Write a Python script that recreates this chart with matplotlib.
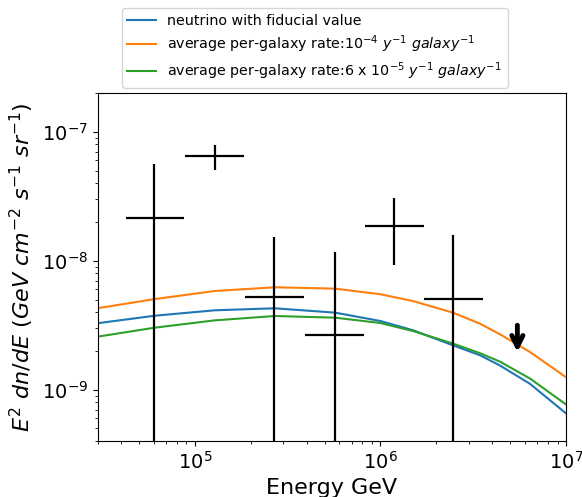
import matplotlib

matplotlib.use("Agg")
import matplotlib.pyplot as plt

# model curves, E^2 dN/dE in GeV cm^-2 s^-1 sr^-1
energy_model = [3.0e4, 6.1e4, 1.28e5, 2.7e5, 5.7e5, 1.0e6, 1.5e6, 2.46e6, 3.44e6, 4.41e6, 6.4e6, 1.0e7]
flux_fiducial = [3.28e-9, 3.75e-9, 4.13e-9, 4.28e-9, 3.96e-9, 3.41e-9, 2.89e-9, 2.21e-9, 1.85e-9,
                 1.54e-9, 1.11e-9, 6.55e-10]
flux_rate_1e4 = [4.29e-9, 5.05e-9, 5.83e-9, 6.23e-9, 6.08e-9, 5.50e-9, 4.87e-9, 3.96e-9, 3.25e-9,
                 2.69e-9, 1.96e-9, 1.25e-9]
flux_rate_6e5 = [2.58e-9, 3.03e-9, 3.45e-9, 3.73e-9, 3.62e-9, 3.29e-9, 2.85e-9, 2.28e-9, 1.92e-9,
                 1.65e-9, 1.22e-9, 7.69e-10]

# measured points: bin centre / edges, flux and its lower / upper bound
e_center = [6.0e4, 1.28e5, 2.68e5, 5.66e5, 1.18e6, 2.46e6]
e_lo = [4.27e4, 8.8e4, 1.87e5, 3.9e5, 8.3e5, 1.72e6]
e_hi = [8.7e4, 1.85e5, 3.87e5, 8.2e5, 1.71e6, 3.58e6]
flux = [2.13e-8, 6.47e-8, 5.24e-9, 2.67e-9, 1.85e-8, 5.05e-9]
flux_lo = [1e-12, 5.04e-8, 1e-12, 1e-12, 9.3e-9, 1e-12]
flux_hi = [5.6e-8, 7.98e-8, 1.53e-8, 1.17e-8, 3.05e-8, 1.58e-8]

# upper limit in the last bin
ul_energy = 5.47e6
ul_flux = 3.16e-9
ul_tip = 1.96e-9

fig = plt.figure(figsize=(5.82, 4.97), dpi=100)
ax = fig.add_axes([0.168, 0.1127, 0.8045, 0.700])

ax.plot(energy_model, flux_fiducial, color="#1f77b4", label="neutrino with fiducial value")
ax.plot(energy_model, flux_rate_1e4, color="#ff7f0e",
        label=r"average per-galaxy rate:$10^{-4}\ y^{-1}\ galaxy^{-1}$")
ax.plot(energy_model, flux_rate_6e5, color="#2ca02c",
        label=r"average per-galaxy rate:6 x $10^{-5}\ y^{-1}\ galaxy^{-1}$")

xerr = [[c - lo for c, lo in zip(e_center, e_lo)], [hi - c for c, hi in zip(e_center, e_hi)]]
yerr = [[f - lo for f, lo in zip(flux, flux_lo)], [hi - f for f, hi in zip(flux, flux_hi)]]
ax.errorbar(e_center, flux, xerr=xerr, yerr=yerr, fmt="none", ecolor="black", elinewidth=1.6, capsize=0)

ax.annotate("", xy=(ul_energy, ul_tip), xytext=(ul_energy, ul_flux),
            arrowprops=dict(arrowstyle="->", color="black", lw=3.5, mutation_scale=20,
                            shrinkA=0, shrinkB=0))

ax.set_xscale("log")
ax.set_yscale("log")
ax.set_xlim(3e4, 1e7)
ax.set_ylim(4e-10, 2e-7)
ax.tick_params(labelsize=14)
ax.set_xlabel("Energy GeV", fontsize=16)
ax.set_ylabel(r"$E^2\ dn/dE\ (GeV\ cm^{-2}\ s^{-1}\ sr^{-1})$", fontsize=16)

ax.legend(loc="lower left", bbox_to_anchor=(0.051, 1.014), borderaxespad=0, fontsize=10.3,
          labelspacing=0.4)

fig.savefig("out.png", dpi=100)
